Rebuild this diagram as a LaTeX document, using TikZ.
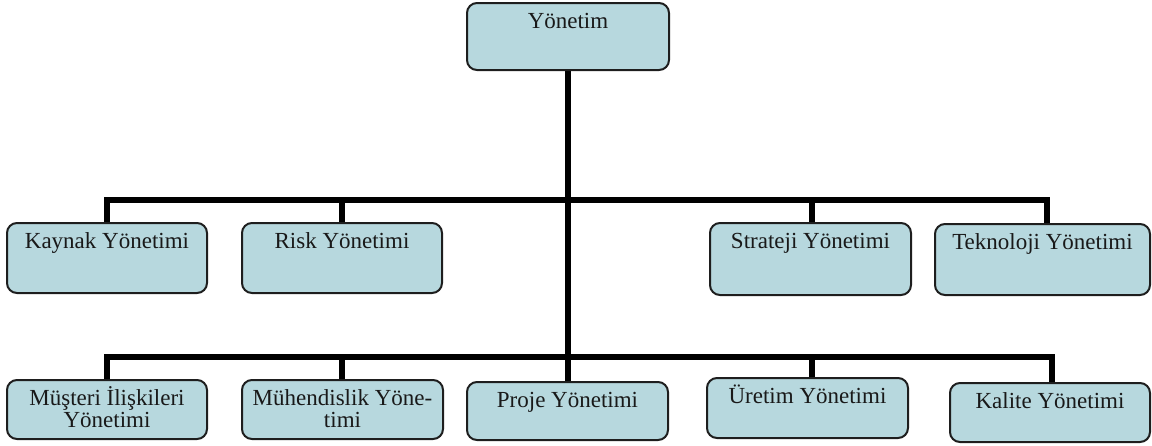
\documentclass[tikz,border=0pt]{standalone}
\usepackage{fontspec}
\setmainfont{Liberation Serif}
\definecolor{boxfill}{RGB}{183,216,222}
\definecolor{boxline}{RGB}{30,30,30}
\definecolor{txt}{RGB}{25,25,25}
\tikzset{
  box/.style={draw=boxline, fill=boxfill, line width=1pt, rounded corners=5pt, inner sep=0pt},
  lbl/.style={anchor=base, inner sep=0pt, text=txt, align=center,
              font=\fontsize{11.5}{11.2}\selectfont},
  conn/.style={line width=3pt, black, line cap=rect, line join=miter}
}
% place a box from its corners (px units) and its caption;
% the optional argument is the drop from the box top to the last baseline
\newcommand{\orgbox}[7][13pt]{%
  \node[box, minimum width={(#5-#3)*0.5pt}, minimum height={(#6-#4)*0.5pt}]
    (#2) at ({(#3+#5)/2},{(#4+#6)/2}) {};
  \node[lbl] (#2-t) at ([yshift=-#1]#2.north) {#7};
}
\begin{document}
\begin{tikzpicture}[x=0.5pt, y=-0.5pt]
\useasboundingbox (0,0) rectangle (1152,445);
% junction heights of the two branch bars
\coordinate (bar1) at (568,200);
\coordinate (bar2) at (568,357);

% connectors (drawn first, boxes cover their ends)
\coordinate (trunktop) at (568,70);
\coordinate (trunkend) at (568,382);
\draw[conn] (trunktop) -- (trunkend);
\coordinate (b1l) at (107,200);
\coordinate (b1r) at (1047,200);
\coordinate (b2l) at (107,357);
\coordinate (b2r) at (1052,357);
\coordinate (k1) at (107,223);
\coordinate (r1) at (342,223);
\coordinate (s1) at (812,223);
\coordinate (t1) at (1047,224);
\coordinate (m1) at (107,380);
\coordinate (h1) at (342,380);
\coordinate (u1) at (812,378);
\coordinate (q1) at (1052,383);
\draw[conn] (k1) -- (b1l) -- (b1r) -- (t1);
\draw[conn] (r1) -- (r1 |- bar1);
\draw[conn] (s1) -- (s1 |- bar1);
\draw[conn] (m1) -- (b2l) -- (b2r) -- (q1);
\draw[conn] (h1) -- (h1 |- bar2);
\draw[conn] (u1) -- (u1 |- bar2);

% top box
\orgbox{top}{467}{3}{669}{70}{Yönetim}
% first row
\orgbox{kaynak}{7}{223}{207}{293}{Kaynak Yönetimi}
\orgbox{risk}{242}{223}{442}{293}{Risk Yönetimi}
\orgbox{strateji}{710}{223}{911}{295}{Strateji Yönetimi}
\orgbox{teknoloji}{935}{224}{1150}{295}{Teknoloji Yönetimi}
% second row
\orgbox[24.3pt]{musteri}{7}{380}{207}{439}{Müşteri İlişkileri\\Yönetimi}
\orgbox[24.3pt]{muhendis}{242}{380}{443}{439}{Mühendislik Yöne-\\timi}
\orgbox{proje}{467}{382}{668}{440}{Proje Yönetimi}
\orgbox{uretim}{707}{378}{908}{438}{Üretim Yönetimi}
\orgbox{kalite}{950}{383}{1150}{442}{Kalite Yönetimi}
\end{tikzpicture}
\end{document}
